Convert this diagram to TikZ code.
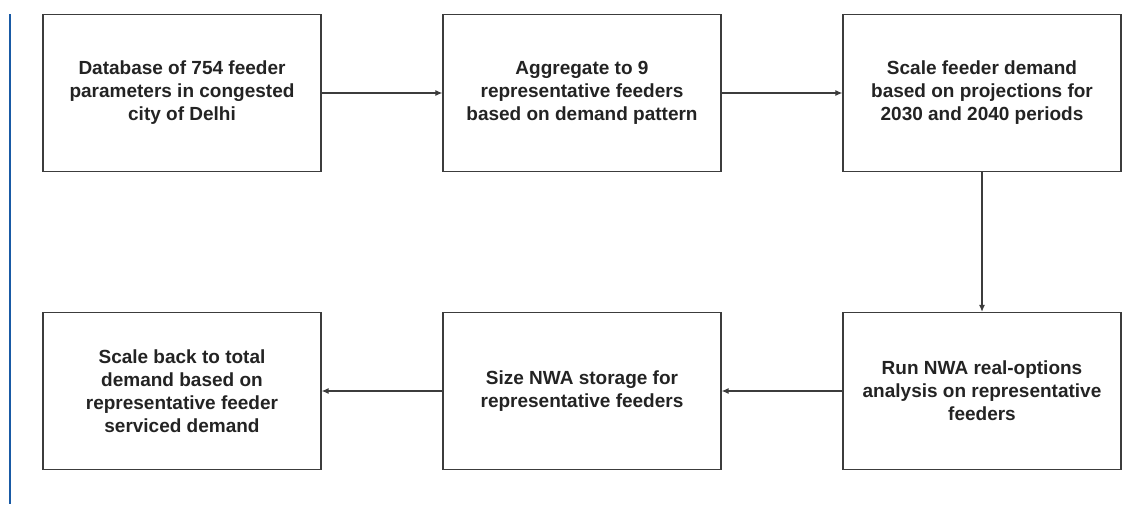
\documentclass[tikz,border=0pt]{standalone}
\usepackage{fontspec}
\setmainfont{Liberation Sans}
\usetikzlibrary{arrows.meta}
\definecolor{sideblue}{RGB}{25,90,165}
\definecolor{boxline}{RGB}{60,60,60}
\definecolor{txt}{RGB}{35,35,35}
\tikzset{
  stepbox/.style={draw=boxline, line width=1.3pt, minimum width=278pt, minimum height=157pt,
    inner sep=0pt, align=center, text=txt, font=\fontsize{19}{23}\selectfont\bfseries},
  flow/.style={draw=boxline, line width=1.1pt, -{Latex[length=7pt,width=6pt]}}
}
\begin{document}
\begin{tikzpicture}[x=1pt,y=-1pt]
\useasboundingbox (0,0) rectangle (1145,504);
\coordinate (btop) at (10,14);
\coordinate (bbot) at (10,504);
\draw[sideblue, line width=2.6pt] (btop) -- (bbot);
\node[stepbox] (b1) at (182,93) {Database of 754 feeder\\parameters in congested\\city of Delhi};
\node[stepbox] (b2) at (582,93) {Aggregate to 9\\representative feeders\\based on demand pattern};
\node[stepbox] (b3) at (982,93) {Scale feeder demand\\based on projections for\\2030 and 2040 periods};
\node[stepbox] (b6) at (982,391) {Run NWA real-options\\analysis on representative\\feeders};
\node[stepbox] (b5) at (582,391) {Size NWA storage for\\representative feeders};
\node[stepbox] (b4) at (182,391) {Scale back to total\\demand based on\\representative feeder\\serviced demand};
\draw[flow] (b1) -- (b2);
\draw[flow] (b2) -- (b3);
\draw[flow] (b3) -- (b6);
\draw[flow] (b6) -- (b5);
\draw[flow] (b5) -- (b4);
\end{tikzpicture}
\end{document}
